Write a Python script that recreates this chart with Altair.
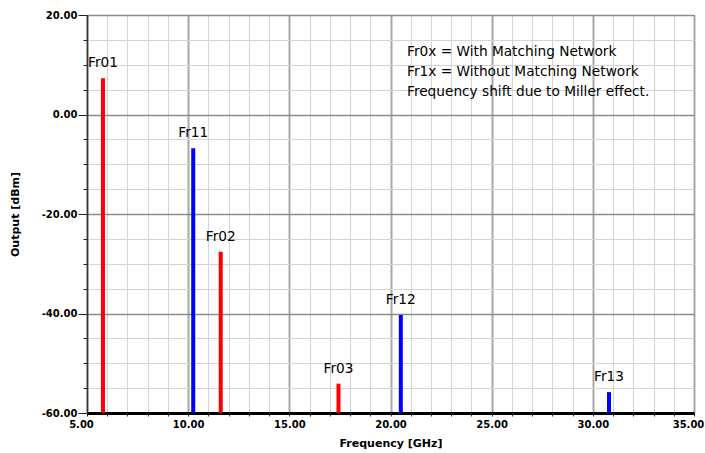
import altair as alt
import pandas as pd

# Spectral lines: resonance peaks with and without the matching network
names = ["Fr01", "Fr11", "Fr02", "Fr03", "Fr12", "Fr13"]
freq_ghz = [5.79, 10.25, 11.61, 17.43, 20.51, 30.80]
output_dbm = [7.3, -6.8, -27.6, -54.1, -40.3, -55.8]
series = ["Fr0x", "Fr1x", "Fr0x", "Fr0x", "Fr1x", "Fr1x"]

note_lines = [
    "Fr0x = With Matching Network",
    "Fr1x = Without Matching Network",
    "Frequency shift due to Miller effect.",
]

x_ticks = list(range(5, 36))
y_ticks = list(range(-60, 21, 5))

df = pd.DataFrame({"name": names, "freq": freq_ghz, "out": output_dbm, "series": series})

FONT_AX = "DejaVu Sans"
FONT_TXT = "DejaVu Sans"

x_scale = alt.Scale(domain=[5, 35], nice=False, zero=False)
y_scale = alt.Scale(domain=[-60, 20], nice=False, zero=False)

x_axis = alt.Axis(
    values=x_ticks,
    tickCount=100,
    labelExpr="datum.value % 5 === 0 ? format(datum.value, '.2f') : ''",
    title="Frequency [GHz]",
    titleFont=FONT_AX, titleFontSize=11, titleFontWeight="bold", titleColor="black",
    titleY=30, titleBaseline="middle",
    labelFont=FONT_AX, labelFontSize=10, labelFontWeight="bold", labelColor="black",
    labelPadding=3, labelFlush=False, labelOverlap=False,
    labelOffset={"condition": {"test": "datum.value === 5 || datum.value === 35", "value": -6}, "value": 0},
    tickSize=3, tickColor="#222", tickWidth=1,
    domainColor="black", domainWidth=3,
    grid=True,
    gridColor={"condition": {"test": "datum.value % 5 === 0", "value": "#a8a8a8"}, "value": "#d4d4d4"},
    gridWidth={"condition": {"test": "datum.value % 5 === 0", "value": 2}, "value": 1},
)

y_axis = alt.Axis(
    values=y_ticks,
    tickCount=100,
    labelExpr="datum.value % 20 === 0 ? (datum.value < 0 ? '-' : '') + format(abs(datum.value), '.2f') : ''",
    title="Output [dBm]",
    titleFont=FONT_AX, titleFontSize=11, titleFontWeight="bold", titleColor="black",
    titleX=-72, titleY=199, titleAlign="center", titleBaseline="middle", titleAngle=-90,
    labelFont=FONT_AX, labelFontSize=10, labelFontWeight="bold", labelColor="black",
    labelPadding=1, labelFlush=False, labelOverlap=False,
    tickSize={"condition": {"test": "datum.value % 20 === 0", "value": 9}, "value": 4},
    tickColor="#222", tickWidth=1,
    domainColor="#333", domainWidth=1.5,
    grid=True,
    gridColor={"condition": {"test": "datum.value % 20 === 0", "value": "#8c8c8c"}, "value": "#d4d4d4"},
    gridWidth={"condition": {"test": "datum.value % 20 === 0", "value": 1.5}, "value": 1},
)

base = alt.Chart(df)

lines = base.mark_rule(strokeWidth=4, strokeCap="butt").transform_calculate(
    floor="-60"
).encode(
    x=alt.X("freq:Q", scale=x_scale, axis=x_axis),
    y=alt.Y("out:Q", scale=y_scale, axis=y_axis),
    y2="floor:Q",
    color=alt.Color(
        "series:N",
        scale=alt.Scale(domain=["Fr0x", "Fr1x"], range=["#ff0000", "#0000ff"]),
        legend=None,
    ),
)

labels = base.mark_text(
    font=FONT_TXT, fontSize=13.7, color="black", baseline="middle", align="center", dy=-15
).encode(
    x=alt.X("freq:Q", scale=x_scale),
    y=alt.Y("out:Q", scale=y_scale),
    text="name:N",
)

note = alt.Chart(pd.DataFrame({"k": [0]})).mark_text(
    text=note_lines, font=FONT_TXT, fontSize=13.7, color="black",
    align="left", baseline="middle", lineHeight=20,
).encode(x=alt.value(320), y=alt.value(37))

chart = (
    alt.layer(lines, labels, note)
    .properties(
        width=607,
        height=398,
        autosize=alt.AutoSizeParams(type="none"),
        padding={"left": 87, "top": 15, "right": 11, "bottom": 40},
        background="white",
    )
    .configure_view(stroke="#555", strokeWidth=1)
)

chart.save("out.html", embed_options={"renderer": "svg", "actions": False})
